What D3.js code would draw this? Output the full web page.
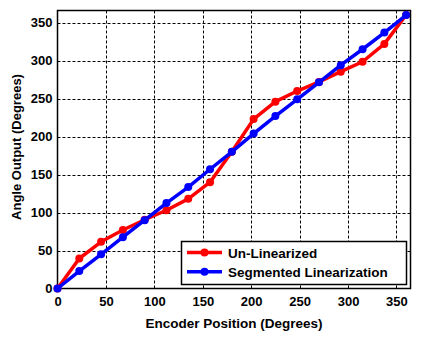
<!DOCTYPE html>
<html><head><meta charset="utf-8">
<script src="https://cdn.jsdelivr.net/npm/d3@7"></script>
<style>body{margin:0;background:#fff}svg{display:block}text{font-family:"Liberation Sans",Arial,sans-serif;font-weight:bold;fill:#000}</style>
</head><body><svg id="c" width="430" height="345"></svg>
<script>
const xValues = [0,22.5,45,67.5,90,112.5,135,157.5,180,202.5,225,247.5,270,292.5,315,337.5,360];
const unLinearized = [0,39.5,61.5,77,90.5,103,118,140,180,223,246,260,272,285.5,298.5,322,360];
const segmented = [0,23,45,67.5,90,112.5,133.5,157,180,204,227,249,271.5,294,315,337,360];
const xTicks = [0,50,100,150,200,250,300,350];
const yTicks = [0,50,100,150,200,250,300,350];
const seriesNames = ["Un-Linearized","Segmented Linearization"];
const seriesColors = ["#ff0000","#0000ff"];

const svg = d3.select("#c");
const L=57.5,R=410.5,T=10.5,B=288.5;
const x = d3.scaleLinear().domain([0,364.5]).range([L,R]);
const y = d3.scaleLinear().domain([0,366]).range([B,T]);

// grid
const g = svg.append("g");
g.selectAll("line.vx").data(xTicks.filter(d=>d>0)).join("line")
 .attr("x1",d=>Math.round(x(d))+0.5).attr("x2",d=>Math.round(x(d))+0.5).attr("y1",T).attr("y2",B)
 .attr("stroke","#000").attr("stroke-width",1).attr("stroke-dasharray","3,2");
g.selectAll("line.hy").data(yTicks.filter(d=>d>0)).join("line")
 .attr("y1",d=>Math.round(y(d))+0.5).attr("y2",d=>Math.round(y(d))+0.5).attr("x1",L).attr("x2",R)
 .attr("stroke","#000").attr("stroke-width",1).attr("stroke-dasharray","3,2");

// axes
const xa = svg.append("g").attr("transform",`translate(0,${B})`)
 .call(d3.axisBottom(x).tickValues(xTicks).tickSize(0).tickPadding(8));
const ya = svg.append("g").attr("transform",`translate(${L},0)`)
 .call(d3.axisLeft(y).tickValues(yTicks).tickSize(0).tickPadding(5));
[xa,ya].forEach(a=>{a.select(".domain").remove();a.selectAll("text").style("font-size","13px").style("font-family","Liberation Sans, Arial").style("font-weight","bold");});

// frame
svg.append("rect").attr("x",L).attr("y",T).attr("width",R-L).attr("height",B-T)
 .attr("fill","none").attr("stroke","#000").attr("stroke-width",1.5);

// series
const data = [unLinearized, segmented];
data.forEach((vals,i)=>{
  const pts = xValues.map((xv,j)=>[xv,vals[j]]);
  svg.append("path").datum(pts)
   .attr("d",d3.line().x(d=>x(d[0])).y(d=>y(d[1])))
   .attr("fill","none").attr("stroke",seriesColors[i]).attr("stroke-width",3.5).attr("stroke-linejoin","round");
  svg.append("g").selectAll("circle").data(pts).join("circle")
   .attr("cx",d=>x(d[0])).attr("cy",d=>y(d[1])).attr("r",4).attr("fill",seriesColors[i]);
});

// legend
const lg = svg.append("g");
lg.append("rect").attr("x",181.5).attr("y",241.5).attr("width",225).attr("height",43)
 .attr("fill","#fff").attr("stroke","#000").attr("stroke-width",1.5);
seriesNames.forEach((n,i)=>{
  const yy = 252.5 + i*19.2;
  lg.append("line").attr("x1",187).attr("x2",222).attr("y1",yy).attr("y2",yy)
   .attr("stroke",seriesColors[i]).attr("stroke-width",3.5);
  lg.append("circle").attr("cx",204.5).attr("cy",yy).attr("r",4).attr("fill",seriesColors[i]);
  lg.append("text").attr("x",228).attr("y",yy+5).style("font-size","13.5px").text(n);
});

// titles
svg.append("text").attr("x",(L+R)/2).attr("y",328).attr("text-anchor","middle").style("font-size","13.5px").text("Encoder Position (Degrees)");
svg.append("text").attr("transform",`translate(21,147) rotate(-90)`).attr("text-anchor","middle").style("font-size","13px").text("Angle Output (Degrees)");
</script></body></html>
